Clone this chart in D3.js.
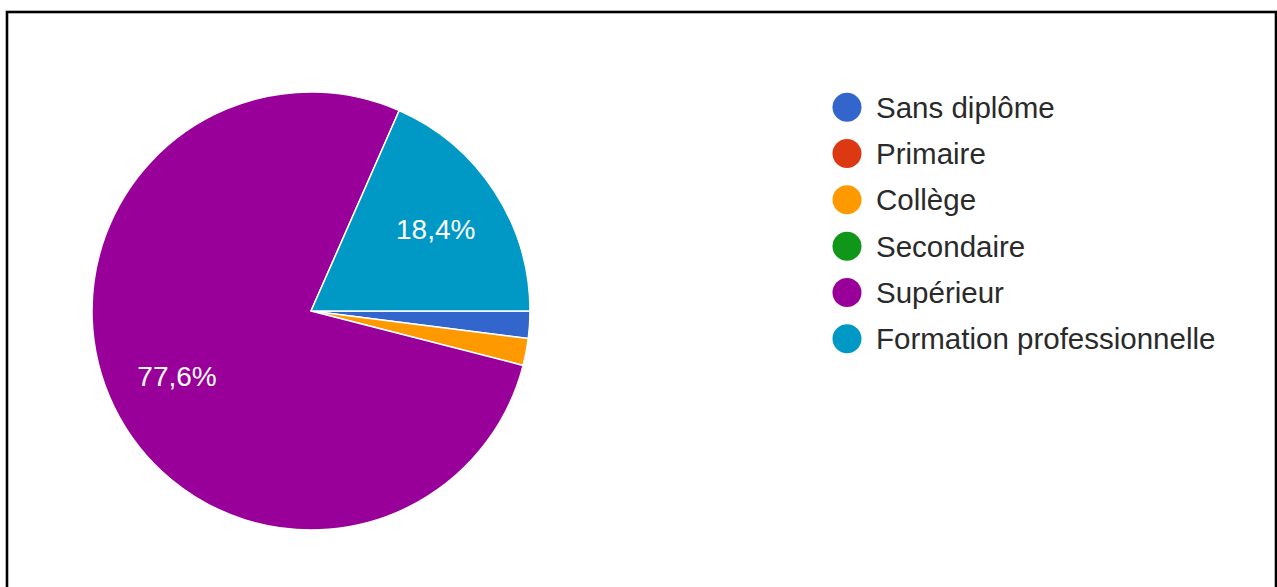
<!DOCTYPE html>
<html>
<head>
<meta charset="utf-8">
<script src="https://cdn.jsdelivr.net/npm/d3@7"></script>
<style>
  html, body { margin: 0; padding: 0; background: #fff; }
  svg { display: block; font-family: "Liberation Sans", Arial, sans-serif; }
</style>
</head>
<body>
<script>
// niveau d'etudes, en pourcentage
var categories = ["Sans diplôme", "Primaire", "Collège", "Secondaire", "Supérieur", "Formation professionnelle"];
var values = [2.0, 0, 2.0, 0, 77.6, 18.4];
var colors = ["#3366cc", "#dc3912", "#ff9900", "#109618", "#990099", "#0099c6"];

var W = 1277, H = 587;
var cx = 311, cy = 311, r = 219;

var svg = d3.select("body").append("svg").attr("width", W).attr("height", H);

// cadre noir
svg.append("rect").attr("x", 7).attr("y", 12).attr("width", 1269).attr("height", 600)
    .attr("fill", "none").attr("stroke", "#000").attr("stroke-width", 2.6);

var data = categories.map(function (c, i) { return { name: c, value: values[i], color: colors[i] }; });

var pie = d3.pie().sort(null).value(function (d) { return d.value; })
    .startAngle(Math.PI / 2).endAngle(Math.PI / 2 + 2 * Math.PI);
var arcs = pie(data);

var arc = d3.arc().innerRadius(0).outerRadius(r);
var labelArc = d3.arc().innerRadius(r * 0.68).outerRadius(r * 0.68);

var g = svg.append("g").attr("transform", "translate(" + cx + "," + cy + ")");

g.selectAll("path").data(arcs.filter(function (d) { return d.value > 0; })).enter()
    .append("path")
    .attr("d", arc)
    .attr("fill", function (d) { return d.data.color; })
    .attr("stroke", "#fff")
    .attr("stroke-width", 1.5)
    .attr("stroke-linejoin", "round");

var fmt = function (v) { return d3.format(".1f")(v).replace(".", ",") + "%"; };

g.selectAll("text.lbl").data(arcs.filter(function (d) { return d.value > 5; })).enter()
    .append("text").attr("class", "lbl")
    .attr("transform", function (d) { return "translate(" + labelArc.centroid(d) + ")"; })
    .attr("text-anchor", "middle")
    .attr("dominant-baseline", "central")
    .attr("fill", "#fff")
    .style("font-size", "28px")
    .text(function (d) { return fmt(d.value); });

// legende
var legY = d3.scaleBand().domain(categories).range([84, 362]);
var leg = svg.append("g");
var row = leg.selectAll("g").data(data).enter().append("g")
    .attr("transform", function (d) { return "translate(847," + (legY(d.name) + legY.bandwidth() / 2) + ")"; });
row.append("circle").attr("r", 14.5).attr("fill", function (d) { return d.color; });
row.append("text").attr("x", 29).attr("dominant-baseline", "central")
    .attr("fill", "#2a2a2a").style("font-size", "29.5px")
    .text(function (d) { return d.name; });
</script>
</body>
</html>
